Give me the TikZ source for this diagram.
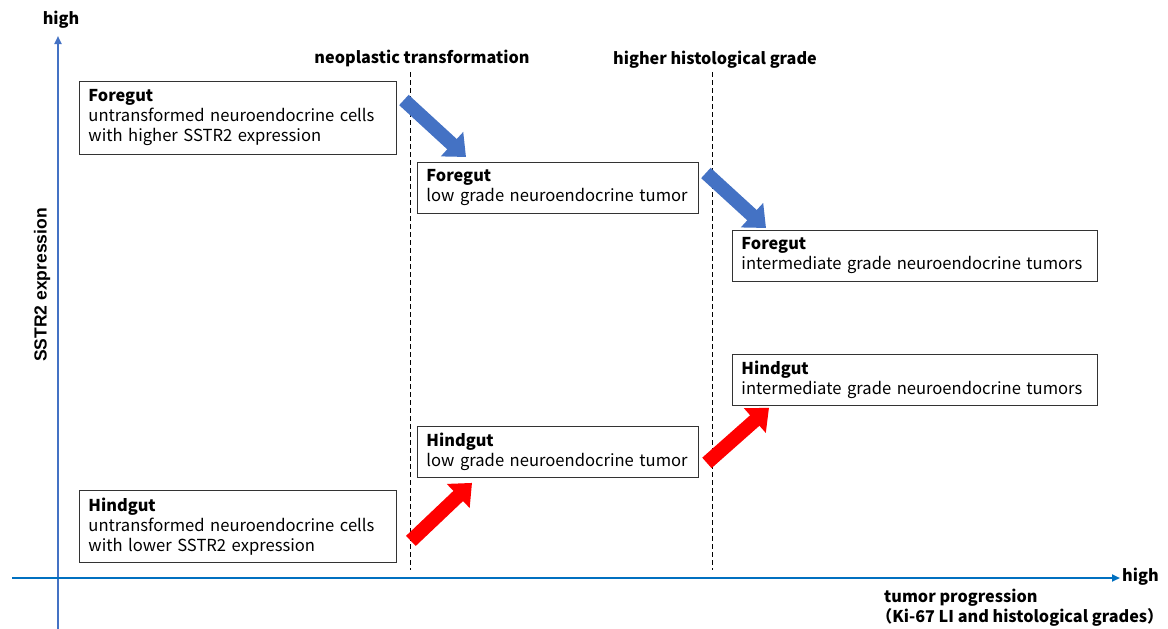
\documentclass[tikz,border=0pt]{standalone}
\usepackage{fontspec}
\setmainfont{Noto Sans CJK JP}
\newfontfamily\arialbold{Liberation Sans}
\usetikzlibrary{arrows.meta,calc}
\definecolor{axblue}{HTML}{0070C0}
\definecolor{axblue2}{HTML}{4472C4}
\definecolor{arrblue}{HTML}{4472C4}
\definecolor{arrred}{HTML}{FF0000}
\newcommand{\hd}[1]{{\bfseries\fontsize{16.3}{20}\selectfont #1}}
\tikzset{
  box/.style={draw=black!80, line width=0.9pt, anchor=north west, align=left,
    inner xsep=9pt, inner ysep=0pt, font=\fontsize{16.6}{20}\selectfont},
  fat/.style={line width=14pt, -{Triangle[length=19pt,width=32pt]}},
  lbl/.style={font=\bfseries\fontsize{16.2}{20}\selectfont, inner sep=0pt},
  guide/.style={dashed, line width=0.8pt, dash pattern=on 5pt off 3pt},
  axis/.style={line width=2.4pt, -{Triangle[length=8pt,width=7pt]}}
}
\begin{document}
\begin{tikzpicture}[x=1pt,y=-1pt]
\useasboundingbox (0,0) rectangle (1168,629);
% axes
\coordinate (yb) at (58,629);
\coordinate (yt) at (58,36);
\coordinate (xl) at (12,578);
\coordinate (xr) at (1120,578);
\draw[axis, axblue2] (yb) -- (yt);
\draw[axis, axblue] (xl) -- (xr);
\node[lbl] (yhigh) at (61,20) {high};
\node[lbl, anchor=west] (xhigh) at (1122,577) {high};
\node[lbl, anchor=north west, align=left] (xlab) at (876,589) {\hspace{8pt}tumor progression\\（Ki-67 LI and histological grades）};
\node[rotate=90, inner sep=0pt, font=\arialbold\bfseries\fontsize{17.5}{20}\selectfont] (ylab) at (42,285) {SSTR2 expression};
% guides
\coordinate (g1t) at (410,72); \coordinate (g1b) at (410,570);
\coordinate (g2t) at (712,72); \coordinate (g2b) at (712,570);
\draw[guide] (g1t) -- (g1b);
\draw[guide] (g2t) -- (g2b);
\node[lbl] (neo) at (422,58) {neoplastic transformation};
\node[lbl] (hig) at (715,60) {higher histological grade};
% boxes
\node[box, text width=299pt, minimum height=73pt] (f1) at (79,81)
  {\hd{Foregut}\\untransformed neuroendocrine cells\\with higher SSTR2 expression};
\node[box, text width=263pt, minimum height=51pt] (f2) at (417,162)
  {\hd{Foregut}\\low grade neuroendocrine tumor};
\node[box, text width=347pt, minimum height=51pt] (f3) at (732,230)
  {\hd{Foregut}\\intermediate grade neuroendocrine tumors};
\node[box, text width=347pt, minimum height=51pt] (h3) at (732,354)
  {\hd{Hindgut}\\intermediate grade neuroendocrine tumors};
\node[box, text width=263pt, minimum height=51pt] (h2) at (417,426)
  {\hd{Hindgut}\\low grade neuroendocrine tumor};
\node[box, text width=299pt, minimum height=72pt] (h1) at (79,490)
  {\hd{Hindgut}\\untransformed neuroendocrine cells\\with lower SSTR2 expression};
% fat arrows
\draw[fat, arrblue] ($(f1.north east)+(7,19)$) -- ($(f2.north west)+(49,-5)$);
\draw[fat, arrblue] ($(f2.north east)+(7,11)$) -- ($(f3.north west)+(34,-2)$);
\draw[fat, arrred] ($(h1.south east)+(14,-22)$) -- ($(h2.south west)+(55,5)$);
\draw[fat, arrred] ($(h2.south east)+(8,-15)$) -- ($(h3.south west)+(37,2)$);
\end{tikzpicture}
\end{document}
